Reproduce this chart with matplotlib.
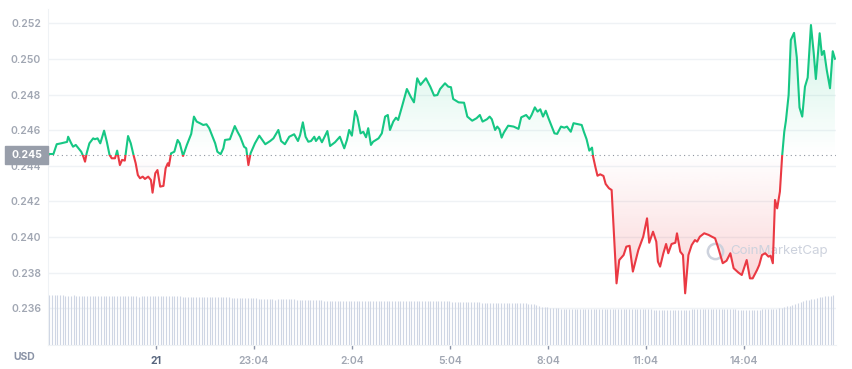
import numpy as np
import matplotlib
matplotlib.use("Agg")
import matplotlib.pyplot as plt
from matplotlib.patches import Rectangle, Polygon

plt.rcParams['font.family'] = ['Inter', 'DejaVu Sans']

# minutes since start of the 24h window
minutes = [
    0, 10, 16, 24, 35, 37, 42, 46, 51, 56,
    61, 65, 68, 71, 76, 83, 86, 91, 96, 103,
    108, 113, 117, 123, 127, 132, 136, 141, 147, 152,
    157, 161, 165, 169, 174, 178, 184, 189, 192, 197,
    201, 206, 212, 216, 220, 222, 226, 232, 238, 242,
    248, 255, 263, 268, 273, 279, 285, 291, 296, 301,
    307, 311, 317, 322, 325, 334, 339, 343, 348,
    353, 360, 364, 368, 372, 380, 388, 399, 408, 414,
    423, 428, 435, 443, 452, 459, 463, 468, 473, 478,
    483, 489, 492, 498, 503, 513, 518, 527, 536, 544,
    549, 553, 558, 564, 568, 574, 579, 584, 588, 593,
    597, 607, 613, 619, 624, 628, 634, 639, 643, 650,
    659, 666, 672, 678, 684, 694, 702, 709, 715, 720,
    729, 735, 740, 744, 754, 764, 770, 779, 787, 793,
    798, 806, 811, 815, 821, 825, 829, 833, 837, 845,
    855, 864, 869, 878, 884, 888, 894, 899, 904, 909,
    914, 919, 925, 930, 935, 942, 948, 953, 956, 960,
    965, 971, 980, 984, 989, 994, 999, 1001, 1005, 1009,
    1014, 1020, 1024, 1030, 1035, 1040, 1044,
    1049, 1057, 1062, 1068, 1074, 1084, 1093, 1100, 1104, 1111,
    1117, 1120, 1124, 1130, 1135, 1139, 1145, 1152, 1155, 1161,
    1166, 1170, 1176, 1182, 1188, 1192, 1197, 1205, 1213, 1219,
    1225, 1231, 1239, 1246, 1253, 1259, 1268, 1274, 1278, 1283,
    1289, 1294, 1302, 1306, 1311, 1317, 1323, 1327, 1331, 1335,
    1339, 1344, 1348, 1352, 1355, 1360, 1364, 1370, 1375, 1380,
    1385, 1390, 1395, 1401, 1406, 1410, 1417, 1421, 1425, 1430,
    1436, 1441, 1445,
]

price = [
    0.24466, 0.24466, 0.24521, 0.24526, 0.24534, 0.24563, 0.24530, 0.24507, 0.24517, 0.24498,
    0.24479, 0.24451, 0.24423, 0.24470, 0.24526, 0.24554, 0.24549, 0.24554, 0.24526, 0.24597,
    0.24535, 0.24461, 0.24442, 0.24442, 0.24485, 0.24404, 0.24433, 0.24429, 0.24567, 0.24526,
    0.24461, 0.24414, 0.24348, 0.24330, 0.24339, 0.24326, 0.24339, 0.24320, 0.24249, 0.24358,
    0.24376, 0.24283, 0.24287, 0.24386, 0.24414, 0.24399, 0.24470, 0.24479, 0.24545, 0.24526,
    0.24455, 0.24517, 0.24579, 0.24676, 0.24648, 0.24639, 0.24629, 0.24633, 0.24611, 0.24573,
    0.24526, 0.24479, 0.24465, 0.24498, 0.24545, 0.24549, 0.24591, 0.24623, 0.24591,
    0.24563, 0.24507, 0.24498, 0.24404, 0.24470, 0.24526, 0.24569, 0.24521, 0.24539, 0.24554,
    0.24601, 0.24539, 0.24521, 0.24563, 0.24577, 0.24539, 0.24573, 0.24644, 0.24563, 0.24535,
    0.24539, 0.24563, 0.24539, 0.24563, 0.24532, 0.24595, 0.24511, 0.24532, 0.24563, 0.24498,
    0.24545, 0.24601, 0.24569, 0.24708, 0.24676, 0.24582, 0.24591, 0.24560, 0.24611, 0.24517,
    0.24535, 0.24554, 0.24582, 0.24676, 0.24685, 0.24601, 0.24648, 0.24670, 0.24657, 0.24732,
    0.24831, 0.24788, 0.24756, 0.24891, 0.24854, 0.24891, 0.24844, 0.24794, 0.24797, 0.24831,
    0.24863, 0.24844, 0.24841, 0.24775, 0.24756, 0.24754, 0.24676, 0.24653, 0.24667, 0.24685,
    0.24648, 0.24661, 0.24676, 0.24661, 0.24601, 0.24620, 0.24605, 0.24558, 0.24586, 0.24625,
    0.24620, 0.24607, 0.24672, 0.24685, 0.24663, 0.24685, 0.24728, 0.24704, 0.24717, 0.24676,
    0.24709, 0.24667, 0.24620, 0.24582, 0.24579, 0.24620, 0.24614, 0.24620, 0.24607, 0.24591,
    0.24639, 0.24635, 0.24629, 0.24591, 0.24549, 0.24485, 0.24502, 0.24451, 0.24395, 0.24344,
    0.24352, 0.24343, 0.24298, 0.24274, 0.24264, 0.23974, 0.23740,
    0.23871, 0.23899, 0.23946, 0.23951, 0.23806, 0.23927, 0.24002, 0.24105, 0.23968, 0.24030,
    0.23974, 0.23862, 0.23834, 0.23909, 0.23961, 0.23909, 0.23961, 0.23968, 0.24021, 0.23918,
    0.23899, 0.23684, 0.23899, 0.23955, 0.23983, 0.23974, 0.24002, 0.24021, 0.24012, 0.24002,
    0.23993, 0.23937, 0.23853, 0.23867, 0.23909, 0.23825, 0.23800, 0.23787, 0.23825, 0.23871,
    0.23768, 0.23768, 0.23815, 0.23843, 0.23899, 0.23909, 0.23890, 0.23895, 0.23853, 0.24208,
    0.24161, 0.24255, 0.24451, 0.24591, 0.24652, 0.24797, 0.25106, 0.25146, 0.25008, 0.24727,
    0.24676, 0.24844, 0.24895, 0.25190, 0.25036, 0.24887, 0.25144, 0.25022, 0.25045, 0.24938,
    0.24835, 0.25043, 0.25001,
]

# 24h volume (M USD), one bar per 5 minutes
volume = [
    50, 50, 50, 50, 50, 49.5,
    49, 49, 49, 49.5, 49, 49, 49, 49, 49, 49, 49, 49, 49, 49, 49, 49, 49,
    48.5, 48.5, 48.5, 48.5, 48.5, 48.5, 48.5, 48.5, 48.5, 48.5, 48, 48.5, 48.5,
    48.5, 48.5, 48.5, 48.5, 48.5, 48.5, 48.5, 48.5, 48.5, 48.5, 48.5, 48.5, 48.5,
    48, 48, 48, 47.5, 48, 48, 48, 48, 47.5, 48, 48, 48, 48, 48, 47.5, 48, 48, 48,
    47, 47, 46.5, 47, 46.5, 46.5, 46.5, 47, 46.5, 46.5, 46,
    45.5, 45.5, 45.5, 45.5, 45.5, 45, 45.5, 45.5, 45.5, 45.5, 45.5, 45.5, 45.5, 45, 45,
    45, 45, 45, 45, 45, 45, 44.5, 44.5,
    44, 44, 44, 44, 44, 44, 44, 44, 44, 44, 44, 44, 44, 44, 44, 44, 44, 44, 44, 44,
    44, 44, 44, 44, 44, 44, 44, 44, 44, 44, 44, 44, 44, 44, 43.5, 44, 44, 44, 44, 44,
    44, 44, 44, 44, 44, 43.5, 43.5,
    43, 43, 43, 43, 43, 43, 43, 43, 43, 43, 42.5,
    42, 42, 42, 42, 42, 42, 42, 42, 42, 42, 42, 42, 42, 42, 42, 42, 41.5,
    41, 40.5, 40.5, 40,
    38.5, 38, 38, 37.5, 37,
    36.5, 36.5, 36.5, 36,
    35.5, 35.5, 35.5, 35.5, 35.5, 35.5, 35.5, 35.5, 35.5, 35.5, 35.5, 35.5, 35.5, 35.5, 35.5, 35.5,
    36, 36, 36, 36, 36, 36, 36, 36, 36, 36, 36, 36, 36, 36, 36, 36, 36,
    35, 35, 35, 35, 35, 35, 35, 35, 35, 35, 35, 35, 35, 35,
    36, 36, 36, 36, 36, 36, 36, 36, 36, 36, 36, 36, 36, 36, 36, 36, 36,
    35, 35, 35, 35, 35, 35, 35, 35, 35,
    36, 36, 36, 36, 36, 36,
    36.5, 37, 37.5, 38.5, 39, 40, 41, 42, 43, 43.5, 44.5, 45, 45.5, 46, 47, 47.5, 48,
    48.5, 49, 49, 49.5,
]

base_price = 0.24461
tick_minutes = [198, 378, 558, 738, 918, 1098, 1278]
tick_labels = ["21", "23:04", "2:04", "5:04", "8:04", "11:04", "14:04"]
y_ticks = [0.236, 0.238, 0.240, 0.242, 0.244, 0.246, 0.248, 0.250, 0.252]

GREEN = '#16c784'
RED = '#ea3943'
GRID = '#eff2f5'
LABEL = '#a1a7b3'

t = np.array(minutes)
p = np.array(price)
vol = np.array(volume)
x_end = 1447

fig = plt.figure(figsize=(8.52, 3.69), dpi=100)
ax = fig.add_axes([48/852, 24/369, 788/852, 336/369])

for y in y_ticks:
    ax.axhline(y, color=GRID, lw=1, zorder=0)

# volume bars along the bottom
vt = np.arange(len(vol)) * 5 + 2
ax.vlines(vt, 0, vol / vol.max() * 0.149, transform=ax.get_xaxis_transform(),
          color='#cfd6e4', lw=0.8, zorder=1)

# gradient areas
def gradient(color, a0, a1, y0, y1, upper):
    g = np.zeros((256, 1, 4))
    g[..., :3] = matplotlib.colors.to_rgb(color)
    g[:, 0, 3] = np.linspace(a0, a1, 256)
    im = ax.imshow(g, extent=[0, x_end, y0, y1], origin='lower',
                   aspect='auto', zorder=2, interpolation='bilinear')
    edge = np.maximum(p, base_price) if upper else np.minimum(p, base_price)
    verts = np.column_stack([np.r_[t[0], t, t[-1]],
                             np.r_[base_price, edge, base_price]])
    im.set_clip_path(Polygon(verts, closed=True, transform=ax.transData))

gradient(GREEN, 0.0, 0.2, base_price, p.max(), True)
gradient(RED, 0.22, 0.0, p.min(), base_price, False)

ax.axhline(base_price, color='#8f95a0', lw=0.8, ls=(0, (1, 3)), zorder=3)

lg, = ax.plot(t, p, color=GREEN, lw=1.5, zorder=4, solid_joinstyle='round')
lg.set_clip_path(Rectangle((0, base_price), x_end, 1, transform=ax.transData))
lr, = ax.plot(t, p, color=RED, lw=1.5, zorder=4, solid_joinstyle='round')
lr.set_clip_path(Rectangle((0, base_price - 1), x_end, 1, transform=ax.transData))

# watermark
ax.plot([0.846], [0.28], 'o', transform=ax.transAxes, ms=11, mfc='none',
        mec='#cdd2dd', mew=1.8, zorder=3)
ax.text(0.866, 0.28, 'CoinMarketCap', transform=ax.transAxes, fontsize=9.6,
        color='#cdd2dd', va='center', ha='left', zorder=3)

ax.set_xlim(0, x_end)
ax.set_ylim(0.23394, 0.2528)

ax.set_yticks(y_ticks)
ax.set_yticklabels([f"{v:.3f}" for v in y_ticks])
ax.tick_params(axis='y', length=0, pad=5, labelcolor=LABEL, labelsize=7.5)
for lab in ax.get_yticklabels():
    lab.set_fontweight('semibold')

ax.set_xticks(tick_minutes)
ax.set_xticklabels(tick_labels)
ax.tick_params(axis='x', length=3, width=1, color='#8a93a6', pad=5,
               labelcolor=LABEL, labelsize=7.5)
for lab in ax.get_xticklabels():
    lab.set_fontweight('semibold')
ax.get_xticklabels()[0].set_color('#58667e')
ax.get_xticklabels()[0].set_fontweight('bold')

for s in ['top', 'right']:
    ax.spines[s].set_visible(False)
ax.spines['left'].set_color(GRID)
ax.spines['bottom'].set_color(GRID)

# current price tag
trans = ax.get_yaxis_transform()
ax.add_patch(Rectangle((-43/788, base_price - 9/17813), 43/788, 18/17813,
                       transform=trans, color='#989eaa', clip_on=False, zorder=5))
ax.text(-21.5/788, base_price, f"{base_price:.3f}", transform=trans, ha='center',
        va='center', color='white', fontsize=7.5, fontweight='bold', zorder=6)

fig.text(24/852, 1 - 357/369, 'USD', ha='center', va='center', fontsize=7.5,
         fontweight='bold', color='#8a93a6')

fig.savefig('out.png', dpi=100)
